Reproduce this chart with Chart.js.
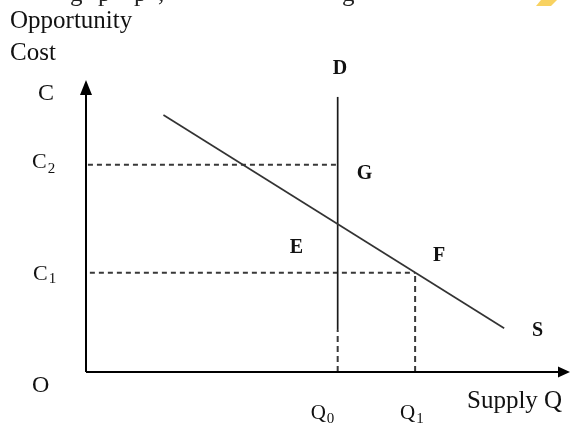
<!DOCTYPE html>
<html>
<head>
<meta charset="utf-8">
<script src="https://cdn.jsdelivr.net/npm/chart.js@4.4.1/dist/chart.umd.min.js"></script>
<style>
  html, body { margin: 0; padding: 0; background: #ffffff; }
  #wrap { width: 573px; height: 427px; position: relative; }
  canvas { display: block; }
</style>
</head>
<body>
<div id="wrap"><canvas id="c" width="573" height="427"></canvas></div>
<script>
// ---- data (axis units: 0..100 on each axis) ----
const quantityLabels = ['Q0', 'Q1'];
const quantityValues = [52, 68];
const costLabels = ['C1', 'C2'];
const costValues = [34, 71];
const supplyQ = [16, 86.4];
const supplyC = [88, 15];
const demandQ = [52, 52];
const demandC = [0, 94.2];
const demandDashedTop = 14.4;   // D is dashed below this cost
const axisMax = [100, 100];     // arrow tips of the Q and C axes

const FONT = "'Liberation Serif', 'Times New Roman', serif";
const INK = '#111111';
const DASH_COL = '#383838';

const Q0 = quantityValues[0], Q1 = quantityValues[1];
const C1 = costValues[0], C2 = costValues[1];

function seg(x0, y0, x1, y1) { return [{x: x0, y: y0}, {x: x1, y: y1}]; }

const baseDs = { showLine: true, pointRadius: 0, pointHoverRadius: 0, fill: false, clip: false, tension: 0 };

const datasets = [
  Object.assign({}, baseDs, { label: 'Q axis', data: seg(0, 0, axisMax[0] - 1.5, 0), borderColor: '#000', borderWidth: 2 }),
  Object.assign({}, baseDs, { label: 'C axis', data: seg(0, 0, 0, axisMax[1] - 4), borderColor: '#000', borderWidth: 2 }),
  Object.assign({}, baseDs, { label: 'S', data: seg(supplyQ[0], supplyC[0], supplyQ[1], supplyC[1]), borderColor: '#333', borderWidth: 1.7 }),
  Object.assign({}, baseDs, { label: 'D', data: seg(demandQ[0], demandDashedTop, demandQ[1], demandC[1]), borderColor: '#1a1a1a', borderWidth: 1.7 }),
  Object.assign({}, baseDs, { label: 'D dashed', data: seg(demandQ[0], demandC[0], demandQ[0], demandDashedTop), borderColor: DASH_COL, borderWidth: 2, borderDash: [6, 4] }),
  Object.assign({}, baseDs, { label: 'C2', data: seg(0.4, C2, Q0, C2), borderColor: DASH_COL, borderWidth: 2, borderDash: [5, 4] }),
  Object.assign({}, baseDs, { label: 'C1', data: seg(0.8, C1, Q1, C1), borderColor: DASH_COL, borderWidth: 2, borderDash: [5, 4] }),
  Object.assign({}, baseDs, { label: 'Q1', data: seg(Q1, 0, Q1, C1), borderColor: DASH_COL, borderWidth: 2, borderDash: [6, 4] })
];

function txt(ctx, s, x, y, size, weight) {
  ctx.font = (weight || 'normal') + ' ' + size + 'px ' + FONT;
  ctx.fillText(s, x, y);
}
function sub(ctx, main, subs, x, y, size, subSize, dy) {
  ctx.font = size + 'px ' + FONT;
  ctx.fillText(main, x, y);
  const w = ctx.measureText(main).width;
  ctx.font = subSize + 'px ' + FONT;
  ctx.fillText(subs, x + w + 1, y + dy);
}

const decor = {
  id: 'decor',
  afterDatasetsDraw(chart) {
    const ctx = chart.ctx;
    const xs = chart.scales.x, ys = chart.scales.y;
    const px = v => xs.getPixelForValue(v);
    const py = v => ys.getPixelForValue(v);
    ctx.save();
    // arrowheads
    ctx.fillStyle = '#000';
    const ox = px(0), oy = py(0);
    const ty = py(axisMax[1]);
    ctx.beginPath();
    ctx.moveTo(ox, ty);
    ctx.lineTo(ox - 6, ty + 15);
    ctx.lineTo(ox + 6, ty + 15);
    ctx.closePath();
    ctx.fill();
    const tx = px(axisMax[0]);
    ctx.beginPath();
    ctx.moveTo(tx, oy);
    ctx.lineTo(tx - 12, oy - 5.5);
    ctx.lineTo(tx - 12, oy + 5.5);
    ctx.closePath();
    ctx.fill();

    // text
    ctx.fillStyle = INK;
    ctx.textBaseline = 'alphabetic';
    ctx.textAlign = 'left';
    txt(ctx, 'Opportunity', 10, 28, 25);
    txt(ctx, 'Cost', 10, 60, 25);
    txt(ctx, 'C', 38, 100, 24);
    sub(ctx, 'C', costLabels[1].slice(1), 32, py(C2) + 3, 22, 15, 5);
    sub(ctx, 'C', costLabels[0].slice(1), 33, py(C1) + 7, 22, 15, 3);
    txt(ctx, 'O', 32, 392, 24);
    txt(ctx, 'D', px(Q0) - 5, 74, 20, 'bold');
    txt(ctx, 'G', px(Q0) + 19, py(C2) + 14, 20, 'bold');
    txt(ctx, 'E', px(Q0) - 48, 253, 20, 'bold');
    txt(ctx, 'F', px(Q1) + 18, 261, 20, 'bold');
    txt(ctx, 'S', 532, 336, 20, 'bold');
    sub(ctx, 'Q', quantityLabels[0].slice(1), px(Q0) - 27, 419, 21, 15, 4);
    sub(ctx, 'Q', quantityLabels[1].slice(1), px(Q1) - 15, 419, 21, 15, 4);
    txt(ctx, 'Supply Q', 467, 408, 25);

    // cut-off line of text above the figure
    ctx.fillStyle = '#222';
    txt(ctx, 'g', 70, 1, 25);
    txt(ctx, 'p', 98, 1, 25);
    txt(ctx, 'p', 134, 1, 25);
    txt(ctx, ',', 158, 1, 25);
    txt(ctx, 'g', 342, 1, 25);

    // small yellow mark at top right
    ctx.fillStyle = '#F8D261';
    ctx.beginPath();
    ctx.moveTo(541, 0);
    ctx.lineTo(557, 0);
    ctx.lineTo(551, 6);
    ctx.lineTo(536, 6);
    ctx.closePath();
    ctx.fill();
    ctx.restore();
  }
};

new Chart(document.getElementById('c'), {
  type: 'scatter',
  data: { datasets },
  options: {
    responsive: false,
    animation: false,
    events: [],
    layout: { padding: { left: 86, right: 3, top: 80, bottom: 55 } },
    plugins: { legend: { display: false }, tooltip: { enabled: false }, title: { display: false } },
    scales: {
      x: { type: 'linear', min: 0, max: axisMax[0], display: false },
      y: { type: 'linear', min: 0, max: axisMax[1], display: false }
    }
  },
  plugins: [decor]
});
</script>
</body>
</html>
